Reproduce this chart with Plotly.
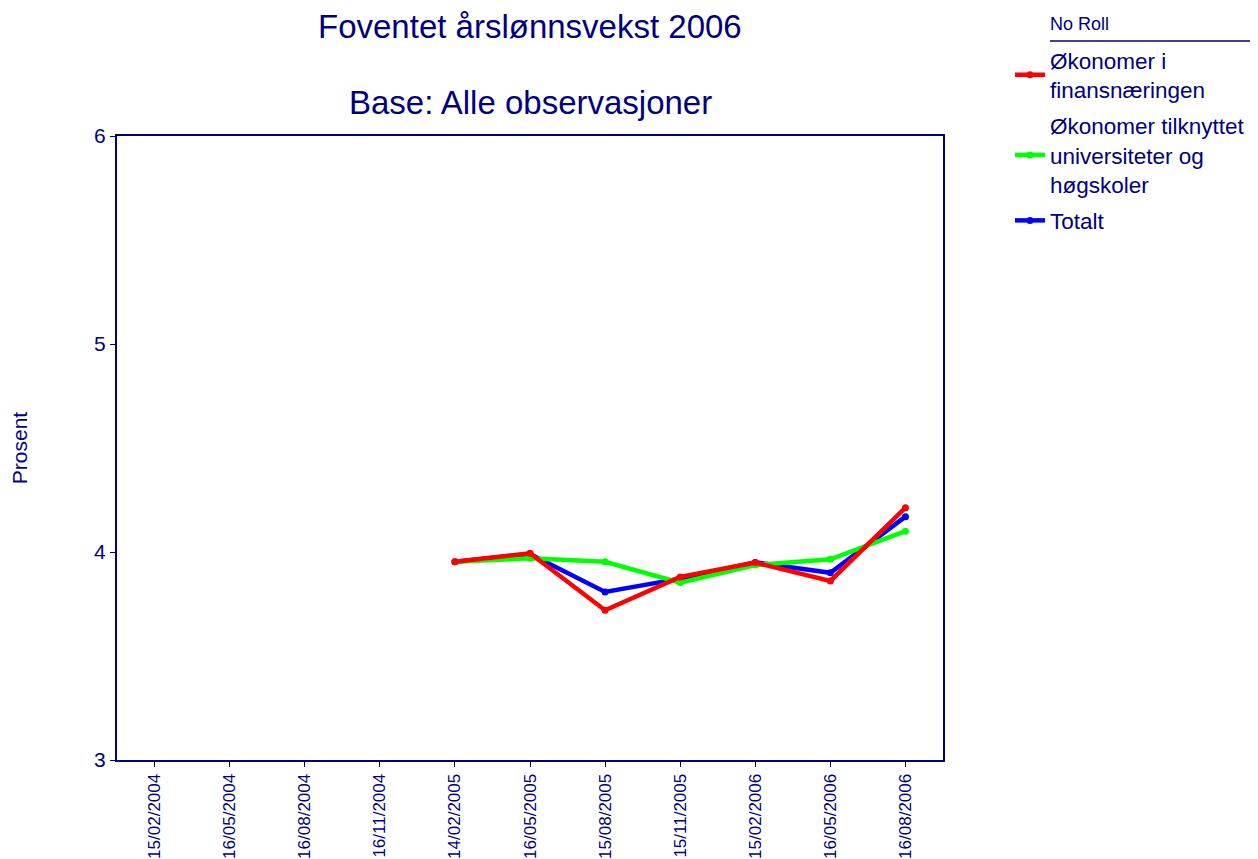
import plotly.graph_objects as go

dates = ["15/02/2004", "16/05/2004", "16/08/2004", "16/11/2004", "14/02/2005",
         "16/05/2005", "15/08/2005", "15/11/2005", "15/02/2006", "16/05/2006", "16/08/2006"]
finans = [None, None, None, None, 3.953, 3.994, 3.72, 3.88, 3.949, 3.861, 4.213]
univ = [None, None, None, None, 3.953, 3.97, 3.953, 3.853, 3.937, 3.965, 4.10]
totalt = [None, None, None, None, 3.953, 3.99, 3.808, 3.872, 3.95, 3.90, 4.17]

names = ["Økonomer i<br>finansnæringen",
         "Økonomer tilknyttet<br>universiteter og<br>høgskoler",
         "Totalt"]
colors = ["#ff0000", "#00ff00", "#0000ff"]
navy = "#000080"
font = "Liberation Sans, Arial, sans-serif"

# page has a small body offset; compensate in margins
L, R, T, B = 109, 323, 128, 107
W, H = 1258, 859
pw = W - L - R
ph = H - T - B

def px(xscreen):
    return (xscreen - 117) / pw

def py(yscreen):
    return (759 - yscreen) / ph

fig = go.Figure()
for vals, name, col, rank in [(totalt, names[2], colors[2], 3),
                              (univ, names[1], colors[1], 2),
                              (finans, names[0], colors[0], 1)]:
    fig.add_trace(go.Scatter(x=dates, y=vals, name=name, mode="lines+markers",
                             line=dict(color=col, width=4.5), marker=dict(color=col, size=7),
                             legendrank=rank, legendgroup=str(rank), connectgaps=False))

fig.update_layout(
    width=W, height=H,
    margin=dict(l=L, r=R, t=T, b=B, autoexpand=False),
    paper_bgcolor="white", plot_bgcolor="white",
    font=dict(family=font, color=navy, size=21),
    showlegend=True,
    legend=dict(x=px(1010), y=py(38), xanchor="left", yanchor="top",
                font=dict(size=22.5, color=navy), bgcolor="rgba(0,0,0,0)",
                tracegroupgap=4, itemwidth=30),
    xaxis=dict(type="category", categoryorder="array", categoryarray=dates,
               range=[-0.5, 10.5], tickangle=-90, tickfont=dict(size=17, color=navy),
               showline=True, linecolor=navy, linewidth=2, mirror=True, automargin=False,
               ticks="outside", ticklen=5, tickcolor=navy, showgrid=False, zeroline=False),
    yaxis=dict(range=[3, 6], tickvals=[3, 4, 5, 6], tickfont=dict(size=21, color=navy),
               showline=True, linecolor=navy, linewidth=2, mirror=True, automargin=False,
               ticks="outside", ticklen=5, tickcolor=navy, showgrid=False, zeroline=False,
               title=dict(text="Prosent", font=dict(size=21, color=navy), standoff=67)),
)

fig.add_annotation(text="Foventet årslønnsvekst 2006", x=0.5, xref="paper", y=py(26), yref="paper",
                   showarrow=False, font=dict(size=33, color=navy), yanchor="middle")
fig.add_annotation(text="Base: Alle observasjoner", x=0.5, xref="paper", y=py(102), yref="paper",
                   showarrow=False, font=dict(size=33, color=navy), yanchor="middle")
fig.add_annotation(text="No Roll", x=px(1048), xref="paper", y=py(23), yref="paper",
                   showarrow=False, font=dict(size=18, color=navy), xanchor="left", yanchor="middle")
fig.add_shape(type="line", xref="paper", yref="paper", x0=px(1050), x1=px(1258), y0=py(40), y1=py(40),
              line=dict(color=navy, width=1.5))

fig.write_html("out.html")
